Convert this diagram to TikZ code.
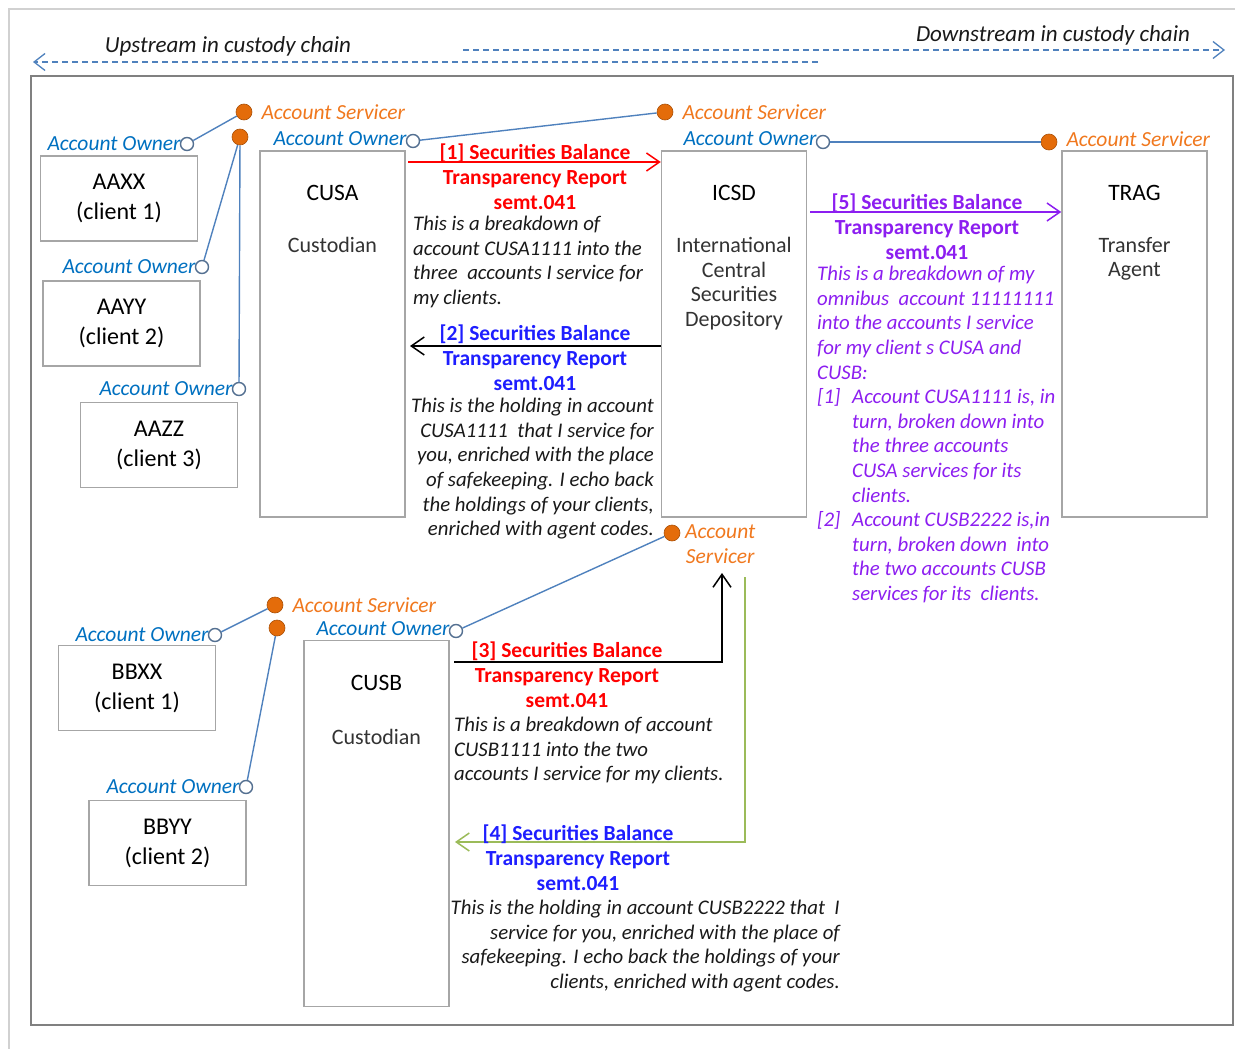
\documentclass[tikz,border=0pt]{standalone}
\usepackage{fontspec}
\setmainfont{Carlito}
\usetikzlibrary{arrows.meta,positioning}
\definecolor{boxgray}{RGB}{166,166,166}
\definecolor{framegray}{RGB}{128,128,128}
\definecolor{linkblue}{RGB}{79,129,189}
\definecolor{ringgray}{RGB}{84,112,145}
\definecolor{ownerblue}{RGB}{0,112,192}
\definecolor{srvorange}{RGB}{228,108,10}
\definecolor{srvtext}{RGB}{240,120,30}
\definecolor{rptred}{RGB}{255,0,0}
\definecolor{rptblue}{RGB}{30,30,255}
\definecolor{rptpurple}{RGB}{140,30,240}
\definecolor{chaingreen}{RGB}{155,187,89}
\definecolor{bodyblack}{RGB}{25,25,25}
\newcommand{\hang}{\hspace*{35pt}}
\newcommand{\itm}[1]{\makebox[35pt][l]{#1}}

\begin{document}
\begin{tikzpicture}[
    x=1pt,y=-1pt,
    party/.style={rectangle,draw=boxgray,line width=1.5pt,fill=white,inner sep=0pt},
    client/.style={party,minimum width=157pt,minimum height=85pt,align=center,
      font=\fontsize{24}{30}\selectfont},
    tall/.style={party,minimum width=145pt,minimum height=366pt},
    tallname/.style={inner sep=0pt,font=\fontsize{23.5}{28}\selectfont},
    tallrole/.style={inner sep=0pt,align=center,text=black!80,font=\fontsize{22}{24.6}\selectfont},
    owner/.style={circle,draw=ringgray,fill=white,line width=1.4pt,minimum size=13pt,inner sep=0pt},
    servicer/.style={circle,fill=srvorange,draw=srvorange!75!black,line width=0.6pt,
      minimum size=16pt,inner sep=0pt},
    ownlbl/.style={inner sep=0pt,text=ownerblue,font=\fontsize{21.5}{24.6}\selectfont\itshape},
    srvlbl/.style={inner sep=0pt,text=srvtext,font=\fontsize{21.5}{24.6}\selectfont\itshape},
    link/.style={draw=linkblue,line width=1.4pt},
    rpthead/.style={inner sep=0pt,anchor=north,align=center,font=\fontsize{21.5}{24.8}\selectfont\bfseries},
    rptbody/.style={inner sep=0pt,text=bodyblack,font=\fontsize{20.8}{24.6}\selectfont\itshape},
    msg/.style={line width=1.5pt,-{Straight Barb[length=13pt,width=18pt]}},
    chain/.style={draw=linkblue,line width=1.3pt,dash pattern=on 6pt off 4pt,
      -{Straight Barb[length=11pt,width=17pt]}},
    chainlbl/.style={inner sep=0pt,text=black!90,font=\fontsize{23}{25}\selectfont\itshape}
  ]
    \useasboundingbox (0,0) rectangle (1235,1049);
    % page edge and outer frame
    \draw[black!18,line width=1.5pt] (9,1049) -- (9,9) -- (1235,9);
    \draw[framegray,line width=1.5pt] (31,76) rectangle (1233,1025);

    % custody chain direction
    \node[chainlbl] (uplbl) at (228,46) {Upstream in custody chain};
    \node[chainlbl] (downlbl) at (1053,35) {Downstream in custody chain};
    \coordinate (ups) at (818,62);
    \coordinate (upe) at (33,62);
    \coordinate (downs) at (463,50);
    \coordinate (downe) at (1225,50);
    \draw[chain] (ups) -- (upe);
    \draw[chain] (downs) -- (downe);

    % parties
    \node[client] (aaxx) at (119,198.5) {AAXX\\(client 1)};
    \node[client] (aayy) at (121.5,323.5) {AAYY\\(client 2)};
    \node[client] (aazz) at (159,445) {AAZZ\\(client 3)};
    \node[client] (bbxx) at (137,688) {BBXX\\(client 1)};
    \node[client] (bbyy) at (167.5,843) {BBYY\\(client 2)};

    \node[tall] (cusa) at (332.5,334) {};
    \node[tall] (icsd) at (734,334) {};
    \node[tall] (trag) at (1134.5,334) {};
    \node[tall] (cusb) at (376.5,823.5) {};

    \node[tallname,below=35pt of cusa.north] (cusaname) {CUSA};
    \node[tallrole,below=36pt of cusaname] (cusarole) {Custodian};
    \node[tallname,below=35pt of icsd.north] (icsdname) {ICSD};
    \node[tallrole,below=36pt of icsdname] (icsdrole) {International\\Central\\Securities\\Depository};
    \node[tallname,below=35pt of trag.north] (tragname) {TRAG};
    \node[tallrole,below=36pt of tragname] (tragrole) {Transfer\\Agent};
    \node[tallname,below=35pt of cusb.north] (cusbname) {CUSB};
    \node[tallrole,below=38pt of cusbname] (cusbrole) {Custodian};

    % account owners and account servicers
    \node[owner] (aaxxown) at (187,144) {};
    \node[owner] (aayyown) at (202,267) {};
    \node[owner] (aazzown) at (239,389) {};
    \node[owner] (cusaown) at (413,141) {};
    \node[owner] (icsdown) at (823,142) {};
    \node[owner] (bbxxown) at (215,635) {};
    \node[owner] (bbyyown) at (246,787) {};
    \node[owner] (cusbown) at (456,631) {};

    \node[servicer] (cusasrv) at (244,112) {};
    \node[servicer] (cusasrvb) at (240,137) {};
    \node[servicer] (icsdsrv) at (665,112) {};
    \node[servicer] (icsdsrvb) at (672,533) {};
    \node[servicer] (tragsrv) at (1049,142) {};
    \node[servicer] (cusbsrv) at (275,605) {};
    \node[servicer] (cusbsrvb) at (277,628) {};

    \draw[link] (aaxxown) -- (cusasrv);
    \draw[link] (aayyown) -- (cusasrvb);
    \draw[link] (aazzown) -- (cusasrvb);
    \draw[link] (cusaown) -- (icsdsrv);
    \draw[link] (icsdown) -- (tragsrv);
    \draw[link] (cusbown) -- (icsdsrvb);
    \draw[link] (bbxxown) -- (cusbsrv);
    \draw[link] (bbyyown) -- (cusbsrvb);

    \node[ownlbl,left=-1pt of aaxxown] (aaxxol) {Account Owner};
    \node[ownlbl,left=-1pt of aayyown] (aayyol) {Account Owner};
    \node[ownlbl,left=-1pt of aazzown] (aazzol) {Account Owner};
    \node[ownlbl,left=-1pt of cusaown,yshift=2pt] (cusaol) {Account Owner};
    \node[ownlbl,left=-1pt of icsdown,yshift=3pt] (icsdol) {Account Owner};
    \node[ownlbl,left=-1pt of bbxxown] (bbxxol) {Account Owner};
    \node[ownlbl,left=-1pt of bbyyown] (bbyyol) {Account Owner};
    \node[ownlbl,left=-1pt of cusbown,yshift=2pt] (cusbol) {Account Owner};

    \node[srvlbl,right=9pt of cusasrv] (cusasl) {Account Servicer};
    \node[srvlbl,right=9pt of icsdsrv] (icsdsl) {Account Servicer};
    \node[srvlbl,right=9pt of tragsrv,yshift=3pt] (tragsl) {Account Servicer};
    \node[srvlbl,right=9pt of cusbsrv] (cusbsl) {Account Servicer};
    \node[srvlbl,align=center,anchor=north west] (icsdslb) at (685,525) {Account\\Servicer};

    % [1] CUSA -> ICSD
    \coordinate (r1s) at (408,162);
    \draw[msg,rptred] (r1s) -- (r1s -| icsd.west);
    \node[rpthead,text=rptred] (r1head) at (535,144) {[1] Securities Balance\\Transparency Report\\semt.041};
    \node[rptbody,align=left,anchor=north west] (r1body) at (413,216)
      {This is a breakdown of\\account CUSA1111 into the\\three\ \ accounts I service for\\my clients.};

    % [2] ICSD -> CUSA
    \coordinate (r2e) at (410,346);
    \draw[msg,black] (r2e -| icsd.west) -- (r2e);
    \node[rpthead,text=rptblue] (r2head) at (535,325) {[2] Securities Balance\\Transparency Report\\semt.041};
    \node[rptbody,align=right,anchor=north east] (r2body) at (654,398)
      {This is the holding in account\\CUSA1111\ \ that I service for\\you, enriched with the place\\of safekeeping. I echo back\\the holdings of your clients,\\enriched with agent codes.};

    % [5] ICSD -> TRAG
    \coordinate (r5s) at (810,212);
    \draw[msg,rptpurple] (r5s) -- (r5s -| trag.west);
    \node[rpthead,text=rptpurple] (r5head) at (927,194) {[5] Securities Balance\\Transparency Report\\semt.041};
    \node[rptbody,text=rptpurple,align=left,anchor=north west] (r5body) at (817,266)
      {This is a breakdown of my\\omnibus\ \ account 11111111\\into the accounts I service\\for my client s CUSA and\\CUSB:\\
       \itm{[1]}Account CUSA1111 is, in\\\hang turn, broken down into\\\hang the three accounts\\\hang CUSA services for its\\\hang clients.\\
       \itm{[2]}Account CUSB2222 is,in\\\hang turn, broken down\ \ into\\\hang the two accounts CUSB\\\hang services for its\ \ clients.};

    % [3] CUSB -> ICSD
    \coordinate (r3s) at (454,662);
    \coordinate (r3e) at (722,573);
    \draw[msg,black] (r3s) -| (r3e);
    \node[rpthead,text=rptred] (r3head) at (567,642) {[3] Securities Balance\\Transparency Report\\semt.041};
    \node[rptbody,align=left,anchor=north west] (r3body) at (454,717)
      {This is a breakdown of account\\CUSB1111 into the two\\accounts I service for my clients.};

    % [4] ICSD -> CUSB
    \coordinate (r4s) at (745,577);
    \coordinate (r4e) at (455,842);
    \draw[msg,chaingreen] (r4s) |- (r4e);
    \node[rpthead,text=rptblue] (r4head) at (578,825) {[4] Securities Balance\\Transparency Report\\semt.041};
    \node[rptbody,align=right,anchor=north east] (r4body) at (840,900)
      {This is the holding in account CUSB2222 that\ \ I\\service for you, enriched with the place of\\safekeeping. I echo back the holdings of your\\clients, enriched with agent codes.};
\end{tikzpicture}
\end{document}
